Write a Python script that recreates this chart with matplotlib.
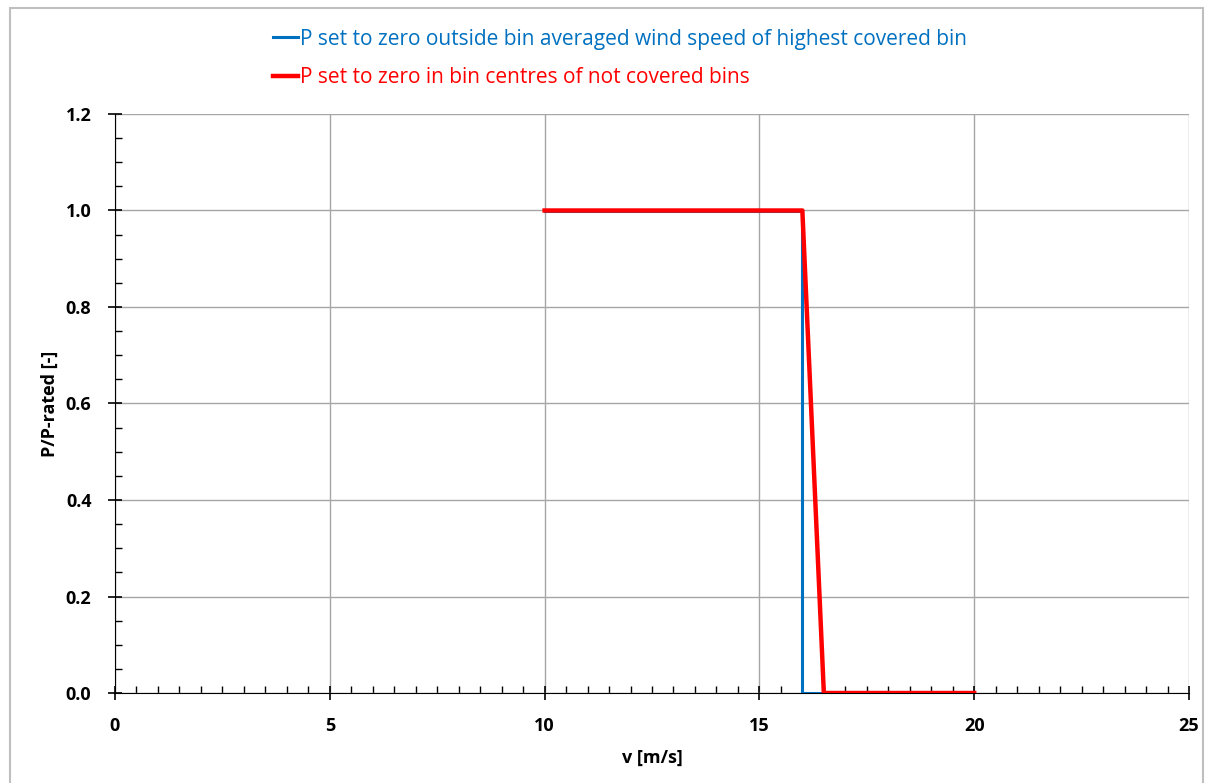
import matplotlib
matplotlib.use('Agg')
import matplotlib.pyplot as plt
from matplotlib.patches import Rectangle
from matplotlib.ticker import MultipleLocator

# data
v_blue = [10, 16, 16, 20]
p_blue = [1.0, 1.0, 0.0, 0.0]
v_red = [10, 16, 16.5, 20]
p_red = [1.0, 1.0, 0.0, 0.0]
label_blue = 'P set to zero outside bin averaged wind speed of highest covered bin'
label_red = 'P set to zero in bin centres of not covered bins'

plt.rcParams['font.family'] = ['Open Sans', 'DejaVu Sans']

fig = plt.figure(figsize=(12.12, 7.83), dpi=100)
ax = fig.add_axes([115 / 1212, 1 - 693 / 783, 1074 / 1212, 579 / 783])

ax.plot(v_blue, p_blue, color='#0070C0', lw=2.2, label=label_blue, zorder=3)
ax.plot(v_red, p_red, color='#FF0000', lw=3.2, label=label_red, zorder=4)

ax.set_xlim(0, 25)
ax.set_ylim(0, 1.2)
ax.xaxis.set_major_locator(MultipleLocator(5))
ax.xaxis.set_minor_locator(MultipleLocator(0.5))
ax.yaxis.set_major_locator(MultipleLocator(0.2))
ax.yaxis.set_minor_locator(MultipleLocator(0.05))
ax.yaxis.set_major_formatter(matplotlib.ticker.FormatStrFormatter('%.1f'))

ax.grid(True, which='major', color='#a6a6a6', lw=1)
ax.set_axisbelow(True)
for s in ['top', 'right']:
    ax.spines[s].set_visible(False)
ax.spines['left'].set_color('black')
ax.spines['bottom'].set_color('black')

ax.tick_params(which='major', direction='inout', length=10, width=1.2, labelsize=13)
ax.tick_params(axis='y', which='major', pad=12)
ax.tick_params(axis='x', which='major', pad=12)
ax.tick_params(which='minor', direction='in', length=5, width=1)
for lab in ax.get_xticklabels() + ax.get_yticklabels():
    lab.set_fontweight('bold')

ax.set_xlabel('v [m/s]', fontsize=13, fontweight='bold', labelpad=10)
ax.set_ylabel('P/P-rated [-]', fontsize=13, fontweight='bold', labelpad=5)

leg = fig.legend(loc='upper left', bbox_to_anchor=(254 / 1212, 1 - 10 / 783),
                 frameon=False, fontsize=15, handlelength=1.2, handletextpad=0.1,
                 labelspacing=0.85, labelcolor='linecolor')

# outer chart border
fig.patches.append(Rectangle((10 / 1212, -0.01), 1193 / 1212, 1 - 8 / 783 + 0.01,
                             transform=fig.transFigure, fill=False,
                             edgecolor='#bfbfbf', lw=1.5))

fig.savefig('out.png', dpi=100)
